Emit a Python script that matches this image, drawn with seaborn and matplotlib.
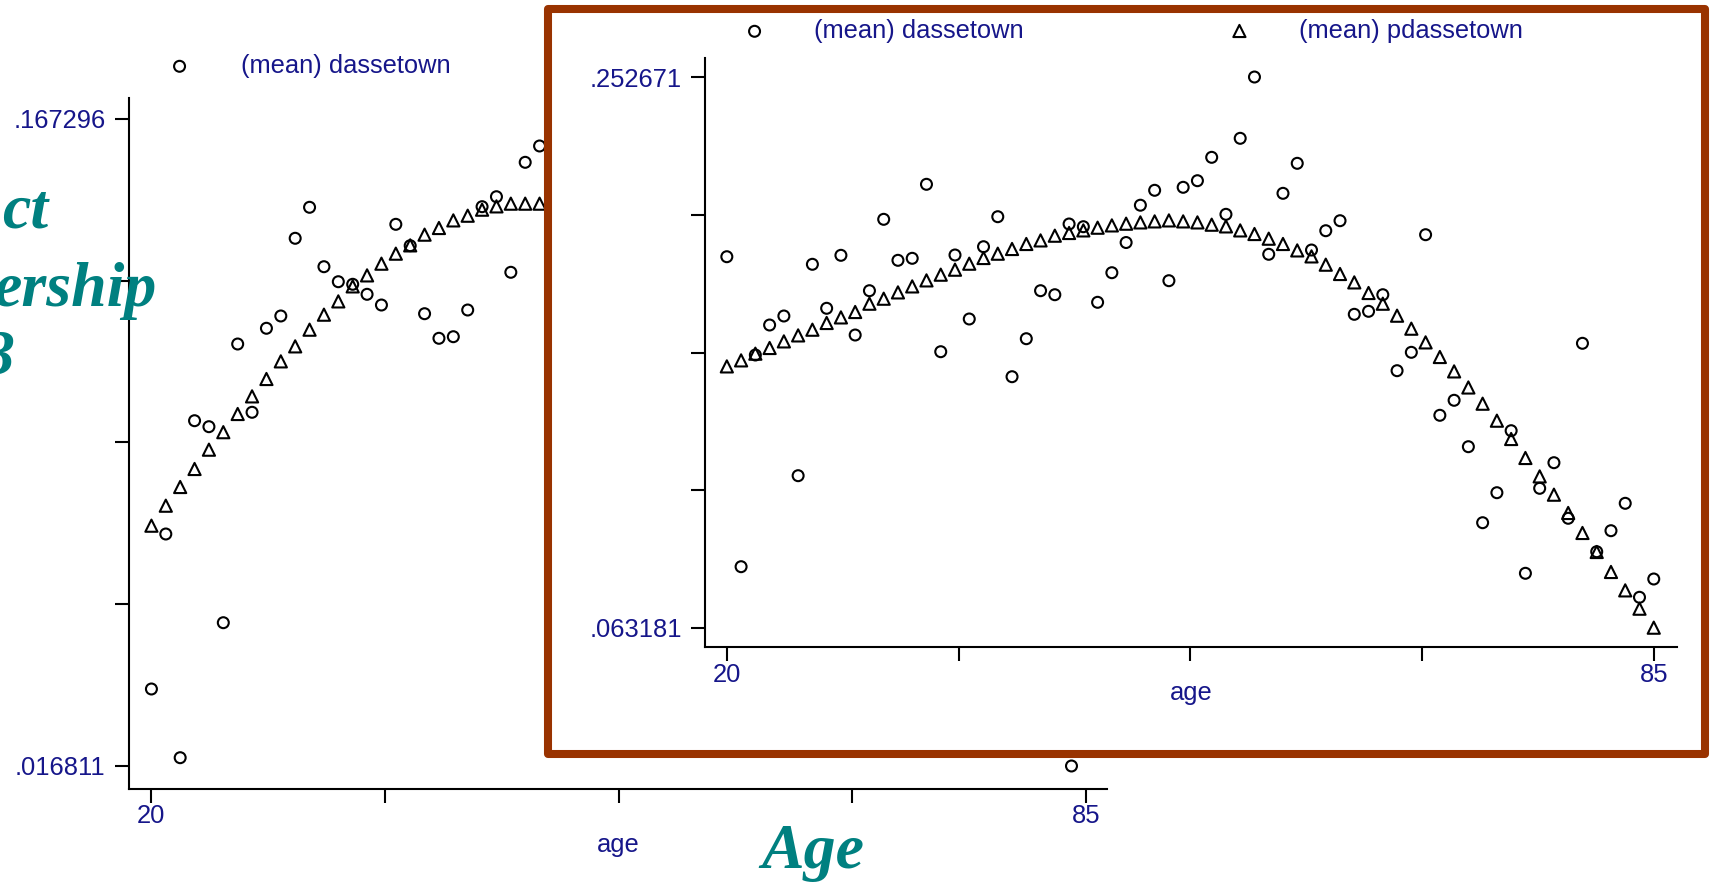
import numpy as np
import pandas as pd
import matplotlib
matplotlib.use('Agg')
import matplotlib.pyplot as plt
import seaborn as sns
from matplotlib.patches import Rectangle
from matplotlib.path import Path

sns.set_theme(style='white')
plt.rcParams['font.family'] = ['Liberation Sans', 'DejaVu Sans']

W, H = 1710, 883
NAVY = '#16168a'
TEAL = '#008080'
BROWN = '#993300'
FS = 18.4

# ---- data ----
# back chart: only the part that is not covered by the front chart
back_age = list(range(20, 48)) + [84]
back_dasset = [.03472, .07077, .01874, .09712, .09573, .05014, .11496, .09908,
               .11862, .12148, .13955, .14676, .13294, .12945, .12885, .12652,
               .12403, .14280, .13783, .12201, .11629, .11666, .12287, .14690,
               .14922, .13164, .15722, .16102, .016811]
back_tri_age = list(range(20, 48))
back_pdasset = [.07263, .07728, .08163, .08582, .09031, .09438, .09861, .10271,
                .10675, .11085, .11434, .11822, .12171, .12480, .12829, .13085,
                .13357, .13590, .13783, .14032, .14187, .14364, .14473, .14613,
                .14690, .14753, .14753, .14753]
back_ymin, back_ymax = .016811, .167296

# front chart, ages 20..85
front_age = list(range(20, 86))
front_dasset = [.19087, .08426, .15707, .16738, .17048, .11556, .18826, .17313,
                .19135, .16394, .17918, .20373, .18963, .19032, .21577, .15820,
                .19146, .16945, .19431, .20463, .14960, .16267, .17918, .17780,
                .20212, .20119, .17519, .18537, .19575, .20858, .21371, .18262,
                .21474, .21701, .22505, .20545, .23159, .252671, .19170, .21267,
                .22299, .19317, .19981, .20325, .17106, .17209, .17780, .15167,
                .15799, .19844, .13633, .14149, .12553, .09939, .10971, .13103,
                .08199, .11122, .12003, .10091, .16109, .08942, .09664, .10606,
                .07374, .08003]
front_pdasset = [.15304, .15511, .15741, .15937, .16164, .16370, .16566, .16797,
                 .16989, .17175, .17460, .17632, .17849, .18055, .18262, .18458,
                 .18630, .18836, .19032, .19180, .19342, .19514, .19637, .19799,
                 .19892, .19981, .20074, .20153, .20212, .20256, .20291, .20325,
                 .20291, .20256, .20177, .20119, .19981, .19857, .19696, .19514,
                 .19293, .19087, .18802, .18482, .18193, .17828, .17460, .17048,
                 .16601, .16130, .15627, .15132, .14579, .14021, .13437, .12807,
                 .12154, .11521, .10892, .10263, .09575, .08921, .08234, .07601,
                 .06971, .063181]
front_ymin, front_ymax = .063181, .252671

labels = ['(mean) dassetown', '(mean) pdassetown']
xtick_labels = ['20', '', '', '', '85']

back_c = pd.DataFrame({'age': back_age, 'dassetown': back_dasset})
back_t = pd.DataFrame({'age': back_tri_age, 'pdassetown': back_pdasset})
front = pd.DataFrame({'age': front_age, 'dassetown': front_dasset,
                      'pdassetown': front_pdasset})

# stata style hollow triangle (closed outline)
TRI = Path([(-0.95, -0.9), (0.95, -0.9), (0, 1), (-0.95, -0.9)], closed=True)


def box(left, top, right, bottom):
    # pixel box -> figure fraction
    return [left / W, 1 - bottom / H, (right - left) / W, (bottom - top) / H]


def short(v):
    return '.' + f'{v:.6f}'.split('.')[1]


def stata_look(ax, ymin, ymax, xlim, ylim, label_y):
    ax.set_xlim(xlim)
    ax.set_ylim(ylim)
    ax.patch.set_visible(False)
    for s in ['top', 'right']:
        ax.spines[s].set_visible(False)
    for s in ['left', 'bottom']:
        ax.spines[s].set_linewidth(1.5)
        ax.spines[s].set_color('black')
    ax.set_xticks(np.linspace(20, 85, 5))
    ax.set_xticklabels(xtick_labels)
    ax.set_yticks(np.linspace(ymin, ymax, 5))
    ax.set_yticklabels([short(ymin), '', '', '', short(ymax)])
    ax.tick_params(axis='both', which='major', bottom=True, left=True,
                   direction='out', length=10, width=1.5, color='black',
                   labelcolor=NAVY, labelsize=FS)
    ax.tick_params(axis='x', pad=1)
    ax.tick_params(axis='y', pad=7)
    ax.set_ylabel('')
    ax.set_xlabel('age', fontsize=FS, color=NAVY)
    ax.xaxis.set_label_coords(0.5, label_y)


def draw_points(ax, cdf, tdf):
    sns.scatterplot(data=cdf, x='age', y='dassetown', ax=ax, marker='o', s=62,
                    facecolors='none', edgecolor='black', linewidth=1.5,
                    legend=False, clip_on=False)
    sns.scatterplot(data=tdf, x='age', y='pdassetown', ax=ax, marker=TRI, s=85,
                    facecolors='none', edgecolor='black', linewidth=1.5,
                    legend=False, clip_on=False)


def add_legend(ax, x, y, pad):
    fig = ax.figure
    ax.legend(ax.collections[:2], labels, ncol=2, loc='center left',
              bbox_to_anchor=(x / W, 1 - y / H), bbox_transform=fig.transFigure,
              frameon=False, fontsize=FS, handlelength=2, handletextpad=pad,
              columnspacing=7.45, borderpad=0, borderaxespad=0, scatterpoints=1,
              labelcolor=NAVY)


fig = plt.figure(figsize=(W / 100, H / 100), dpi=100)
fig.patch.set_facecolor('white')

# back chart
ax1 = fig.add_axes(box(129, 98, 1107, 789))
ax1.set_zorder(1)
draw_points(ax1, back_c, back_t)
stata_look(ax1, back_ymin, back_ymax, (18.44, 86.47), (0.01146, 0.17218), -0.064)
add_legend(ax1, 154, 66, 1.4)

# white panel with brown frame on top of it
frame = Rectangle((548.3 / W, 1 - 753.5 / H), (1705 - 548.3) / W, (753.5 - 8.8) / H,
                  transform=fig.transFigure, facecolor='white', edgecolor=BROWN,
                  linewidth=5.8, joinstyle='round', zorder=2)
fig.add_artist(frame)

# front chart
ax2 = fig.add_axes(box(705.3, 58, 1677, 647.3))
ax2.set_zorder(3)
draw_points(ax2, front, front)
stata_look(ax2, front_ymin, front_ymax, (18.49, 86.63), (0.05654, 0.25921), -0.058)
add_legend(ax2, 729, 31, 1.32)

# slide text around the charts
big = dict(fontsize=46, fontfamily='Liberation Serif', fontweight='bold',
           fontstyle='italic', color=TEAL, va='baseline', zorder=5)
fig.text(48 / W, 1 - 228 / H, 'ct', ha='right', **big)
fig.text(157 / W, 1 - 305.7 / H, 'ership', ha='right', **big)
fig.text(15 / W, 1 - 373 / H, '3', ha='right', **big)
fig.text(761.8 / W, 1 - 868 / H, 'Age', ha='left', **big)

fig.savefig('out.png', dpi=100)
